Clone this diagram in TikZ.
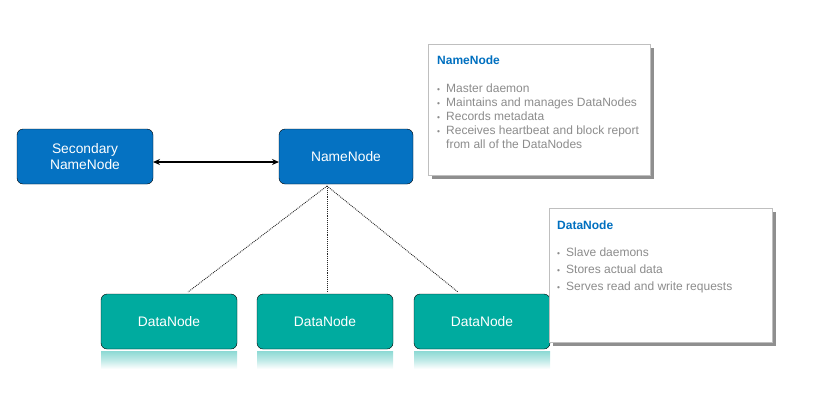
\documentclass[tikz,border=0pt]{standalone}
\usepackage{fontspec}
\setmainfont{Liberation Sans}
\usetikzlibrary{arrows.meta}
\definecolor{nodeblue}{HTML}{0572C2}
\definecolor{nodeteal}{HTML}{00AB9F}
\definecolor{titleblue}{HTML}{0070C0}
\definecolor{infogray}{HTML}{8C8C8C}
\definecolor{shadowgray}{HTML}{8F8F8F}
\tikzset{
  bluebox/.style={fill=nodeblue, rounded corners=6pt, text=white, font=\fontsize{13.8}{16}\selectfont, align=center, inner sep=0pt},
  tealbox/.style={fill=nodeteal, rounded corners=6pt, text=white, font=\fontsize{13.8}{16}\selectfont, align=center, inner sep=0pt},
  infobox/.style={draw=black!25, line width=0.6pt, fill=white},
  infoshadow/.style={fill=shadowgray},
  infotitle/.style={text=titleblue, font=\bfseries\fontsize{12}{14}\selectfont, anchor=west, inner sep=0pt},
  infotext/.style={text=infogray, font=\fontsize{12}{14}\selectfont, anchor=north west, inner sep=0pt, align=left},
  dotline/.style={densely dotted, line width=0.9pt, black!85},
  reflect/.style={top color=nodeteal!45, bottom color=white, middle color=nodeteal!25}
}
\newcommand{\ibul}{\makebox[9pt][l]{\scalebox{0.7}{\textbullet}}}
\begin{document}
\begin{tikzpicture}[x=1pt,y=-1pt]
\useasboundingbox (0,0) rectangle (830,408);
% top boxes
\draw[bluebox] (17,129) rectangle (153,184);
\node[bluebox] (sec) at (85,156.5) {Secondary\\NameNode};
\coordinate (secE) at (153,162);
\draw[bluebox] (279,129) rectangle (413,184);
\node[bluebox] (nn) at (346,157) {NameNode};
\coordinate (nnW) at (279,162);
\draw[line width=1.3pt, {Stealth[length=7pt,width=6pt]}-{Stealth[length=7pt,width=6pt]}] (secE) -- (nnW);
% data nodes
\foreach \x/\n in {101/a,257/b,414/c}{
  \shade[reflect] (\x,351) rectangle ++(136,18);
  \draw[tealbox] (\x,294) rectangle ++(136,55);
}
\node[tealbox] (dn1) at (169,322) {DataNode};
\node[tealbox] (dn2) at (325,322) {DataNode};
\node[tealbox] (dn3) at (482,322) {DataNode};
\coordinate (nnS) at (327,186);
\coordinate (d1t) at (188,292);
\coordinate (d2t) at (327,292);
\coordinate (d3t) at (458,292);
\draw[dotline] (nnS) -- (d1t);
\draw[dotline] (nnS) -- (d2t);
\draw[dotline] (nnS) -- (d3t);
% NameNode info
\fill[infoshadow] (432,48) rectangle (654,179);
\draw[infobox] (428,44) rectangle (650,175);
\node[infotitle] (nnt) at (437,60) {NameNode};
\node[infotext] (nnl) at (437,82) {%
\begin{tabular}{@{}l@{}l@{}}
\ibul & Master daemon\\
\ibul & Maintains and manages DataNodes\\
\ibul & Records metadata\\
\ibul & Receives heartbeat and block report\\
 & from all of the DataNodes
\end{tabular}};
% DataNode info
\fill[infoshadow] (553,212) rectangle (776,346);
\draw[infobox] (549,208) rectangle (772,342);
\node[infotitle] (dnt) at (557,225) {DataNode};
\node[infotext] (dnl) at (557,246) {%
\begin{tabular}{@{}l@{}l@{}}
\ibul & Slave daemons\\[3pt]
\ibul & Stores actual data\\[3pt]
\ibul & Serves read and write requests
\end{tabular}};
\end{tikzpicture}
\end{document}
